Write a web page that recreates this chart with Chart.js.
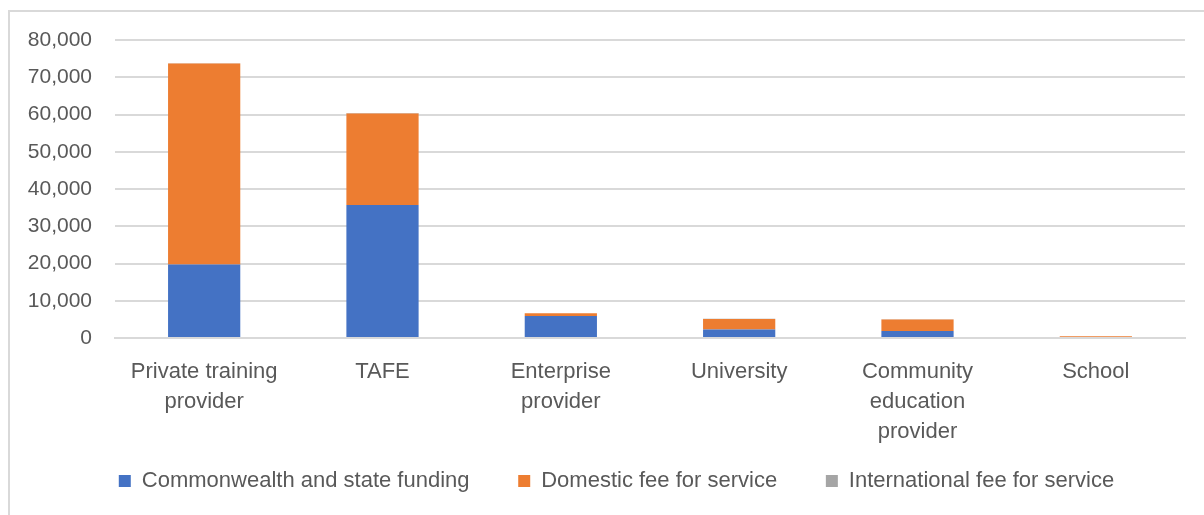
<!DOCTYPE html>
<html lang="en">
<head>
    <meta charset="UTF-8">
    <title>Funding by provider type</title>
    <script src="https://cdn.jsdelivr.net/npm/chart.js"></script>
    <style>
        html, body { margin: 0; padding: 0; background: #fff; overflow: hidden; }
        #frame {
            position: absolute; left: 8px; top: 10px; width: 1220px; height: 520px;
            border: 2px solid #d9d9d9; box-sizing: border-box;
        }
        #chart-box { position: absolute; left: 0; top: 0; width: 1204px; height: 515px; }
    </style>
</head>
<body>
    <div id="frame"></div>
    <div id="chart-box">
        <canvas id="funding-chart"></canvas>
    </div>

    <script>
        // Provider types (x axis)
        var categories = [
            ['Private training', 'provider'],
            ['TAFE'],
            ['Enterprise', 'provider'],
            ['University'],
            ['Community', 'education', 'provider'],
            ['School']
        ];

        // Series values
        var commonwealthFunding = [19700, 35700, 5900, 2300, 1900, 300];
        var domesticFee = [54000, 24600, 750, 2800, 3100, 200];
        var internationalFee = [60, 120, 10, 40, 20, 0];

        // Y axis
        var yTicks = [0, 10000, 20000, 30000, 40000, 50000, 60000, 70000, 80000];

        var textColour = '#595959';
        var gridColour = '#d9d9d9';
        var fontFamily = '"Liberation Sans", Arial, sans-serif';

        // nudge the legend to the right, it sits a bit off-centre in the original
        var legendShift = {
            id: 'legendShift',
            afterLayout: function(chart) {
                if (chart.legend) {
                    chart.legend.left += 24;
                    chart.legend.right += 24;
                }
            }
        };

        var ctx = document.getElementById('funding-chart').getContext('2d');
        var fundingChart = new Chart(ctx, {
            type: 'bar',
            data: {
                labels: categories,
                datasets: [{
                    label: 'Commonwealth and state funding',
                    data: commonwealthFunding,
                    backgroundColor: '#4472C4'
                }, {
                    label: 'Domestic fee for service',
                    data: domesticFee,
                    backgroundColor: '#ED7D31'
                }, {
                    label: 'International fee for service',
                    data: internationalFee,
                    backgroundColor: '#A5A5A5'
                }]
            },
            plugins: [legendShift],
            options: {
                responsive: true,
                maintainAspectRatio: false,
                animation: false,
                datasets: {
                    bar: { categoryPercentage: 1, barPercentage: 0.405 }
                },
                layout: {
                    padding: { top: 40, right: 19, bottom: 13, left: 0 }
                },
                plugins: {
                    tooltip: { enabled: false },
                    legend: {
                        position: 'bottom',
                        labels: {
                            color: textColour,
                            font: { family: fontFamily, size: 22 },
                            boxWidth: 12,
                            boxHeight: 12,
                            padding: 12,
                            generateLabels: function(chart) {
                                var items = Chart.defaults.plugins.legend.labels.generateLabels(chart);
                                // trailing spaces widen the gap between items
                                items.forEach(function(item, i) {
                                    if (i < items.length - 1) item.text = item.text + '      ';
                                });
                                return items;
                            }
                        }
                    }
                },
                scales: {
                    x: {
                        stacked: true,
                        afterFit: function(scale) { scale.height = 120; },
                        grid: { display: false, drawTicks: false },
                        border: { color: gridColour, width: 2 },
                        ticks: {
                            color: textColour,
                            font: { family: fontFamily, size: 22, lineHeight: 1.364 },
                            padding: 19,
                            maxRotation: 0
                        }
                    },
                    y: {
                        stacked: true,
                        min: 0,
                        max: 80000,
                        afterFit: function(scale) { scale.width = 115; },
                        afterBuildTicks: function(scale) {
                            scale.ticks = yTicks.map(function(v) { return { value: v }; });
                        },
                        border: { display: false },
                        grid: { color: gridColour, lineWidth: 2, drawTicks: false },
                        ticks: {
                            color: textColour,
                            font: { family: fontFamily, size: 21 },
                            padding: 23,
                            callback: function(value) { return value.toLocaleString('en-US'); }
                        }
                    }
                }
            }
        });
    </script>
</body>
</html>
